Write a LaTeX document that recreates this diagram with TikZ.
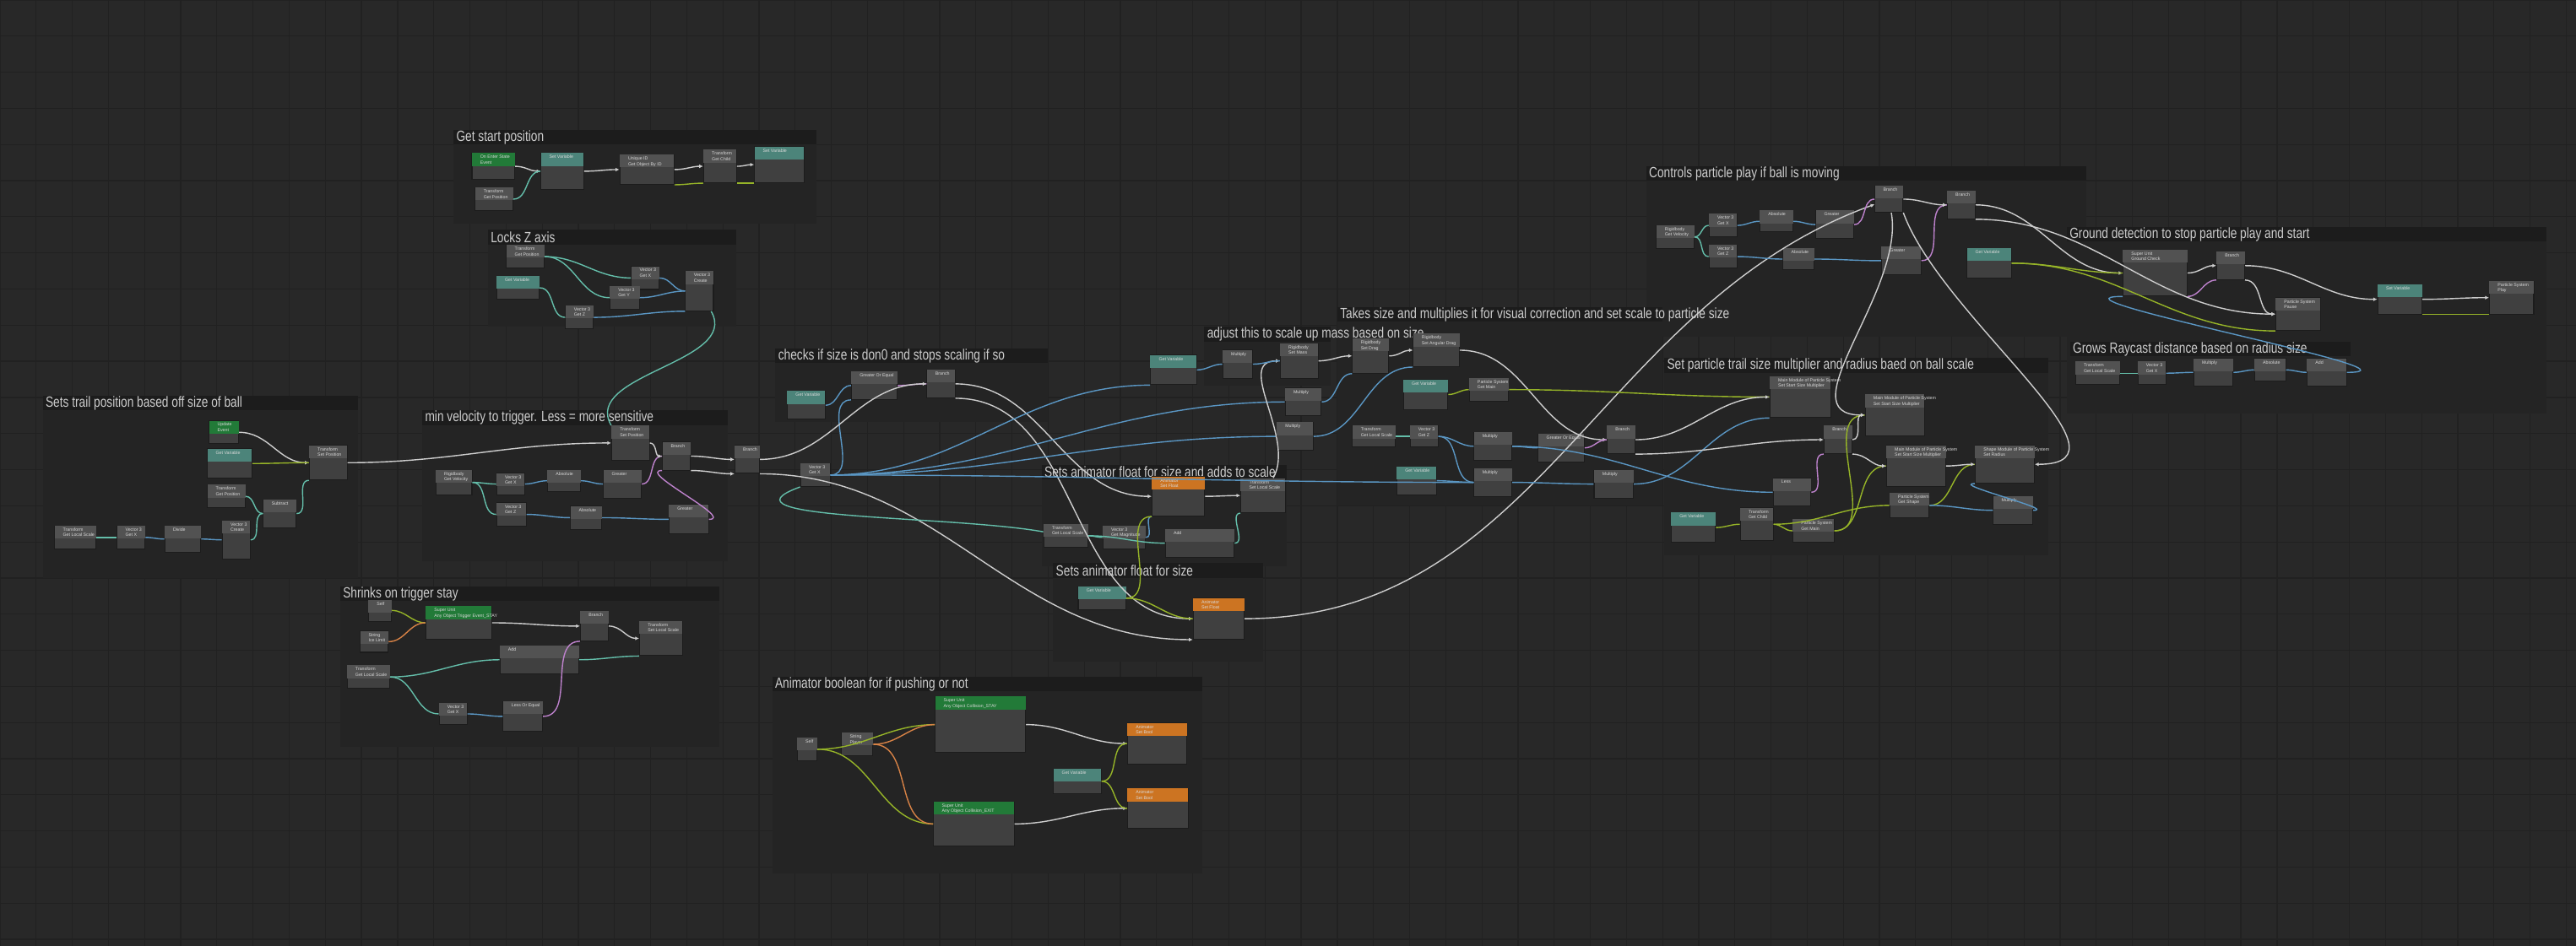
\documentclass[tikz,border=0pt]{standalone}
\usepackage{fontspec}
\setmainfont{Liberation Sans}
\usetikzlibrary{arrows.meta}
\usetikzlibrary{calc}
\definecolor{canvas}  {RGB}{40,40,40}
\definecolor{gridln}  {RGB}{33,33,33}
\definecolor{grpbg}   {RGB}{36,36,36}
\definecolor{grpbar}  {RGB}{28,28,28}
\definecolor{grptxt}  {RGB}{205,205,205}
\definecolor{ubody}   {RGB}{64,64,64}
\definecolor{uedge}   {RGB}{28,28,28}
\definecolor{hdgray}  {RGB}{82,82,82}
\definecolor{hdteal}  {RGB}{76,132,122}
\definecolor{hdgreen} {RGB}{34,122,56}
\definecolor{hdorange}{RGB}{204,116,34}
\definecolor{flowc}   {RGB}{205,205,205}
\definecolor{objc}    {RGB}{150,180,40}
\definecolor{vecc}    {RGB}{100,190,170}
\definecolor{fltc}    {RGB}{90,150,195}
\definecolor{boolc}   {RGB}{190,130,205}
\definecolor{strc}    {RGB}{215,130,70}
\newcommand\px{0.019458cm}
\tikzset{
  unitbox/.style={rectangle, fill=ubody, draw=uedge, line width=0.3pt, inner sep=0pt},
  unittext/.style={inner sep=0pt, text=white!85!black, align=left,
    font=\fontsize{1.5}{1.8}\selectfont},
  grouptitle/.style={inner sep=0pt, text=grptxt, anchor=west,
    font=\fontsize{5}{6}\selectfont, xscale=0.78, transform shape},
  wire/.style={line width=0.4pt, out=0, in=180},
  flow/.style={wire, flowc, -{Latex[length=1.3pt,width=1.3pt]}},
}
% node: name, x, y, width, height, header colour, two text lines
\newcommand\unit[8]{%
  \node (#1) [unitbox, minimum width=#4*\px, minimum height=#5*\px, anchor=north west] at (#2,#3) {};
  \fill [#6] ($(#1.north west)+(0.2,0.2)$) rectangle ($(#1.north east)+(-0.2,8)$);
  \node [unittext, anchor=north west] at ($(#1.north west)+(5,1.2)$) {#7\\#8};
}
% group frame: name, x1, y1, x2, y2, title
\newcommand\ugroup[6]{%
  \fill [grpbg] (#2,#3) rectangle (#4,#5);
  \fill [grpbar] (#2,#3) rectangle (#4,#3+9);
  \node (#1) [grouptitle] at (#2+1.5,#3+4.6) {#6};
}

\begin{document}
\begin{tikzpicture}[x=\px, y=-\px]
  \useasboundingbox (0,0) rectangle (1568,576);
  \fill [canvas] (0,0) rectangle (1568,576);
  \foreach \g in {0,22,...,1568} \draw [gridln, line width=0.35pt] (\g,0) -- (\g,576);
  \foreach \g in {0,22,...,576} \draw [gridln, line width=0.35pt] (0,\g) -- (1568,\g);

  % groups
  \ugroup{gStart}{276}{79}{497}{136}{Get start position}
  \ugroup{gLock}{297}{140}{448}{199}{Locks Z axis}
  \ugroup{gTrail}{26}{241}{218}{352}{Sets trail position based off size of ball}
  \ugroup{gVel}{257}{250}{443}{342}{min velocity to trigger. Less = more sensitive}
  \ugroup{gCheck}{472}{212}{638}{257}{checks if size is don0 and stops scaling if so}
  \ugroup{gShrink}{207}{357}{438}{455}{Shrinks on trigger stay}
  \ugroup{gBool}{470}{412}{732}{532}{Animator boolean for if pushing or not}
  \ugroup{gCtrl}{1002}{101}{1270}{205}{Controls particle play if ball is moving}
  \ugroup{gGround}{1258}{138}{1550}{252}{Ground detection to stop particle play and start}
  \ugroup{gRay}{1260}{208}{1431}{244}{Grows Raycast distance based on radius size}
  \ugroup{gPart}{1013}{218}{1247}{338}{Set particle trail size multiplier and radius baed on ball scale}
  \ugroup{gTakes}{814}{187}{1012}{308}{Takes size and multiplies it for visual correction and set scale to particle size}
  \ugroup{gMass}{733}{199}{810}{235}{adjust this to scale up mass based on size}
  \ugroup{gAddF}{634}{283}{783}{345}{Sets animator float for size and adds to scale}
  \ugroup{gSizeF}{641}{343}{769}{403}{Sets animator float for size}

  % get start position
  \unit{gsEvent}{287}{93}{26}{16}{hdgreen}{On Enter State}{Event}
  \unit{gsGetPos}{289}{114}{23}{14}{hdgray}{Transform}{Get Position}
  \unit{gsSetVar}{329}{93}{26}{22}{hdteal}{Set Variable}{}
  \unit{gsUid}{377}{94}{33}{18}{hdgray}{Unique ID}{Get Object By ID}
  \unit{gsChild}{428}{91}{20}{20}{hdgray}{Transform}{Get Child}
  \unit{gsSetVar2}{459}{89}{30}{22}{hdteal}{Set Variable}{}

  % locks z axis
  \unit{lzGetPos}{308}{149}{23}{14}{hdgray}{Transform}{Get Position}
  \unit{lzGetVar}{302}{168}{26}{14}{hdteal}{Get Variable}{}
  \unit{lzGetX}{384}{162}{17}{14}{hdgray}{Vector 3}{Get X}
  \unit{lzGetY}{371}{174}{18}{14}{hdgray}{Vector 3}{Get Y}
  \unit{lzGetZ}{344}{186}{17}{14}{hdgray}{Vector 3}{Get Z}
  \unit{lzCreate}{417}{165}{17}{24}{hdgray}{Vector 3}{Create}

  % sets trail position
  \unit{stUpdate}{127}{256}{18}{14}{hdgreen}{Update}{Event}
  \unit{stGetVar}{126}{273}{27}{18}{hdteal}{Get Variable}{}
  \unit{stGetPos}{126}{295}{23}{14}{hdgray}{Transform}{Get Position}
  \unit{stSetPos}{188}{271}{23}{21}{hdgray}{Transform}{Set Position}
  \unit{stSub}{160}{304}{20}{17}{hdgray}{Subtract}{}
  \unit{stScale}{33}{320}{25}{14}{hdgray}{Transform}{Get Local Scale}
  \unit{stGetX}{71}{320}{17}{14}{hdgray}{Vector 3}{Get X}
  \unit{stDiv}{100}{320}{22}{16}{hdgray}{Divide}{}
  \unit{stCreate}{135}{317}{17}{23}{hdgray}{Vector 3}{Create}

  % min velocity
  \unit{mvSetPos}{372}{259}{23}{21}{hdgray}{Transform}{Set Position}
  \unit{mvBranch}{403}{269}{17}{17}{hdgray}{Branch}{}
  \unit{mvVel}{265}{286}{22}{15}{hdgray}{Rigidbody}{Get Velocity}
  \unit{mvGetX}{302}{288}{17}{13}{hdgray}{Vector 3}{Get X}
  \unit{mvAbs}{333}{286}{20}{13}{hdgray}{Absolute}{}
  \unit{mvGt}{367}{286}{23}{17}{hdgray}{Greater}{}
  \unit{mvGetZ}{302}{306}{18}{14}{hdgray}{Vector 3}{Get Z}
  \unit{mvAbs2}{347}{308}{19}{14}{hdgray}{Absolute}{}
  \unit{mvGt2}{407}{307}{24}{18}{hdgray}{Greater}{}
  \unit{mvBranch2}{447}{271}{15}{17}{hdgray}{Branch}{}
  \unit{mvSizeX}{487}{282}{18}{14}{hdgray}{Vector 3}{Get X}

  % checks size
  \unit{ckGetVar}{479}{238}{23}{17}{hdteal}{Get Variable}{}
  \unit{ckGeq}{518}{226}{28}{17}{hdgray}{Greater Or Equal}{}
  \unit{ckBranch}{564}{225}{17}{17}{hdgray}{Branch}{}

  % shrinks on trigger stay
  \unit{shSelf}{224}{365}{14}{13}{hdgray}{Self}{}
  \unit{shTrig}{259}{369}{40}{20}{hdgreen}{Super Unit}{Any Object Trigger Event\_STAY}
  \unit{shStr}{219}{384}{17}{13}{hdgray}{String}{Ice Limit}
  \unit{shBranch}{353}{372}{17}{18}{hdgray}{Branch}{}
  \unit{shSetScale}{389}{378}{26}{21}{hdgray}{Transform}{Set Local Scale}
  \unit{shAdd}{304}{393}{48}{17}{hdgray}{Add}{}
  \unit{shGetScale}{211}{405}{26}{14}{hdgray}{Transform}{Get Local Scale}
  \unit{shGetX}{267}{428}{17}{13}{hdgray}{Vector 3}{Get X}
  \unit{shLeq}{306}{427}{24}{18}{hdgray}{Less Or Equal}{}

  % animator boolean
  \unit{abSelf}{485}{449}{12}{14}{hdgray}{Self}{}
  \unit{abStr}{512}{446}{19}{14}{hdgray}{String}{Player}
  \unit{abStay}{569}{424}{55}{34}{hdgreen}{Super Unit}{Any Object Collision\_STAY}
  \unit{abExit}{568}{488}{49}{27}{hdgreen}{Super Unit}{Any Object Collision\_EXIT}
  \unit{abGetVar}{641}{468}{29}{15}{hdteal}{Get Variable}{}
  \unit{abSetBool}{686}{440}{36}{25}{hdorange}{Animator}{Set Bool}
  \unit{abSetBool2}{686}{480}{37}{24}{hdorange}{Animator}{Set Bool}

  % animator float and add
  \unit{afSetFloat}{701}{290}{32}{24}{hdorange}{Animator}{Set Float}
  \unit{afSetScale}{755}{291}{27}{21}{hdgray}{Transform}{Set Local Scale}
  \unit{afGetScale}{635}{319}{27}{14}{hdgray}{Transform}{Get Local Scale}
  \unit{afMag}{671}{320}{26}{14}{hdgray}{Vector 3}{Get Magnitude}
  \unit{afAdd}{709}{322}{42}{17}{hdgray}{Add}{}

  % animator float for size
  \unit{sfGetVar}{656}{357}{29}{14}{hdteal}{Get Variable}{}
  \unit{sfSetFloat}{726}{364}{31}{25}{hdorange}{Animator}{Set Float}

  % mass
  \unit{amGetVar}{700}{216}{28}{18}{hdteal}{Get Variable}{}
  \unit{amMul}{744}{213}{18}{17}{hdgray}{Multiply}{}
  \unit{amMass}{779}{209}{23}{21}{hdgray}{Rigidbody}{Set Mass}
  \unit{amDrag}{823}{206}{22}{21}{hdgray}{Rigidbody}{Set Drag}
  \unit{amAng}{860}{203}{28}{20}{hdgray}{Rigidbody}{Set Angular Drag}

  % takes size
  \unit{tkMul}{782}{236}{22}{17}{hdgray}{Multiply}{}
  \unit{tkMul2}{777}{257}{22}{17}{hdgray}{Multiply}{}
  \unit{tkGetVar}{854}{231}{27}{18}{hdteal}{Get Variable}{}
  \unit{tkGetMain}{894}{230}{24}{14}{hdgray}{Particle System}{Get Main}
  \unit{tkScale}{823}{259}{26}{13}{hdgray}{Transform}{Get Local Scale}
  \unit{tkGetZ}{858}{259}{17}{13}{hdgray}{Vector 3}{Get Z}
  \unit{tkMul3}{897}{263}{23}{17}{hdgray}{Multiply}{}
  \unit{tkGeq}{936}{264}{28}{17}{hdgray}{Greater Or Equal}{}
  \unit{tkBranch}{978}{259}{17}{17}{hdgray}{Branch}{}
  \unit{tkGetVar2}{850}{284}{24}{17}{hdteal}{Get Variable}{}
  \unit{tkMul4}{897}{285}{23}{17}{hdgray}{Multiply}{}
  \unit{tkMul5}{970}{286}{24}{17}{hdgray}{Multiply}{}

  % controls particle play
  \unit{ctVel}{1008}{137}{23}{14}{hdgray}{Rigidbody}{Get Velocity}
  \unit{ctGetX}{1040}{130}{17}{14}{hdgray}{Vector 3}{Get X}
  \unit{ctGetZ}{1040}{149}{17}{14}{hdgray}{Vector 3}{Get Z}
  \unit{ctAbs}{1071}{128}{20}{13}{hdgray}{Absolute}{}
  \unit{ctGt}{1105}{128}{23}{17}{hdgray}{Greater}{}
  \unit{ctAbs2}{1085}{151}{19}{13}{hdgray}{Absolute}{}
  \unit{ctGt2}{1145}{150}{24}{17}{hdgray}{Greater}{}
  \unit{ctBranch}{1141}{113}{17}{16}{hdgray}{Branch}{}
  \unit{ctBranch2}{1185}{116}{17}{17}{hdgray}{Branch}{}
  \unit{ctGetVar}{1197}{151}{27}{18}{hdteal}{Get Variable}{}

  % ground detection
  \unit{gdCheck}{1292}{152}{39}{28}{hdgray}{Super Unit}{Ground Check}
  \unit{gdBranch}{1349}{153}{17}{17}{hdgray}{Branch}{}
  \unit{gdPause}{1385}{181}{27}{20}{hdgray}{Particle System}{Pause}
  \unit{gdSetVar}{1447}{173}{27}{18}{hdteal}{Set Variable}{}
  \unit{gdPlay}{1515}{171}{27}{20}{hdgray}{Particle System}{Play}

  % raycast distance
  \unit{rcScale}{1263}{220}{27}{14}{hdgray}{Transform}{Get Local Scale}
  \unit{rcGetX}{1301}{220}{17}{14}{hdgray}{Vector 3}{Get X}
  \unit{rcMul}{1335}{218}{24}{17}{hdgray}{Multiply}{}
  \unit{rcAbs}{1372}{218}{19}{14}{hdgray}{Absolute}{}
  \unit{rcAdd}{1404}{218}{24}{17}{hdgray}{Add}{}

  % particle trail
  \unit{ptMain}{1077}{229}{37}{25}{hdgray}{Main Module of Particle System}{Set Start Size Multiplier}
  \unit{ptMain2}{1135}{240}{36}{25}{hdgray}{Main Module of Particle System}{Set Start Size Multiplier}
  \unit{ptBranch}{1110}{259}{17}{17}{hdgray}{Branch}{}
  \unit{ptMain3}{1148}{271}{36}{25}{hdgray}{Main Module of Particle System}{Set Start Size Multiplier}
  \unit{ptShape}{1202}{271}{36}{23}{hdgray}{Shape Module of Particle System}{Set Radius}
  \unit{ptLess}{1079}{291}{23}{17}{hdgray}{Less}{}
  \unit{ptGetShape}{1150}{300}{24}{15}{hdgray}{Particle System}{Get Shape}
  \unit{ptMul}{1213}{302}{24}{17}{hdgray}{Multiply}{}
  \unit{ptGetVar}{1017}{312}{27}{18}{hdteal}{Get Variable}{}
  \unit{ptChild}{1059}{309}{20}{20}{hdgray}{Transform}{Get Child}
  \unit{ptGetMain}{1091}{316}{25}{14}{hdgray}{Particle System}{Get Main}

  % wires: get start position
  \draw [flow] (gsEvent) to (gsSetVar);
  \draw [wire, vecc] (gsGetPos) to (gsSetVar);
  \draw [flow] (gsSetVar) to (gsUid);
  \draw [flow] (gsUid) to (gsChild);
  \draw [wire, objc] (gsUid.south east) to (gsChild.south west);
  \draw [flow] (gsChild) to (gsSetVar2);
  \draw [wire, objc] (gsChild.south east) to (gsSetVar2.south west);

  % wires: locks z axis
  \draw [wire, vecc] (lzGetPos) to (lzGetX);
  \draw [wire, vecc] (lzGetPos) to (lzGetY);
  \draw [wire, vecc] (lzGetVar) to (lzGetZ);
  \draw [wire, fltc] (lzGetX) to (lzCreate);
  \draw [wire, fltc] (lzGetY) to (lzCreate);
  \draw [wire, fltc] (lzGetZ) to (lzCreate.south west);
  \draw [wire, vecc] (lzCreate) to[out=-60, in=120] (mvSetPos.north west);

  % wires: sets trail position
  \draw [flow] (stUpdate) to (stSetPos);
  \draw [wire, objc] (stGetVar) to (stSetPos);
  \draw [wire, vecc] (stGetPos) to (stSub);
  \draw [wire, vecc] (stScale) to (stGetX);
  \draw [wire, fltc] (stGetX) to (stDiv);
  \draw [wire, fltc] (stDiv) to (stCreate);
  \draw [wire, vecc] (stCreate) to (stSub);
  \draw [wire, vecc] (stSub) to (stSetPos.south west);
  \draw [flow] (stSetPos) to (mvSetPos);

  % wires: min velocity
  \draw [wire, vecc] (mvVel) to (mvGetX);
  \draw [wire, vecc] (mvVel) to (mvGetZ);
  \draw [wire, fltc] (mvGetX) to (mvAbs);
  \draw [wire, fltc] (mvAbs) to (mvGt);
  \draw [wire, fltc] (mvGetZ) to (mvAbs2);
  \draw [wire, fltc] (mvAbs2) to (mvGt2);
  \draw [wire, boolc] (mvGt) to (mvBranch);
  \draw [wire, boolc] (mvGt2) to (mvBranch.south west);
  \draw [flow] (mvSetPos) to (mvBranch);
  \draw [flow] (mvBranch) to (mvBranch2);
  \draw [flow] (mvBranch.south east) to (mvBranch2.south west);

  % wires: checks size
  \draw [wire, fltc] (ckGetVar) to (ckGeq);
  \draw [wire, fltc] (mvSizeX) to (ckGeq.south west);
  \draw [wire, boolc] (ckGeq) to (ckBranch);
  \draw [flow] (mvBranch2) to (ckBranch);
  \draw [flow] (ckBranch) to (afSetFloat);
  \draw [flow] (ckBranch.south east) to (sfSetFloat);
  \draw [flow] (mvBranch2.south east) to (sfSetFloat.south west);
  \draw [wire, fltc] (mvSizeX) to (amGetVar.south west);
  \draw [wire, fltc] (mvSizeX) to (tkMul);
  \draw [wire, fltc] (mvSizeX) to (tkMul2);
  \draw [wire, fltc] (mvSizeX) to (tkMul4);
  \draw [wire, vecc] (mvSizeX.south west) to[out=200, in=170] (afGetScale);

  % wires: shrinks on trigger stay
  \draw [wire, objc] (shSelf) to (shTrig);
  \draw [wire, strc] (shStr) to (shTrig);
  \draw [flow] (shTrig) to (shBranch);
  \draw [flow] (shBranch) to (shSetScale);
  \draw [wire, vecc] (shGetScale) to (shAdd);
  \draw [wire, vecc] (shAdd) to (shSetScale.south west);
  \draw [wire, vecc] (shGetScale) to (shGetX);
  \draw [wire, fltc] (shGetX) to (shLeq);
  \draw [wire, boolc] (shLeq) to (shBranch.south west);

  % wires: animator boolean
  \draw [wire, objc] (abSelf) to (abStay);
  \draw [wire, objc] (abSelf) to (abExit);
  \draw [wire, strc] (abStr) to (abStay);
  \draw [wire, strc] (abStr) to (abExit);
  \draw [flow] (abStay) to (abSetBool);
  \draw [flow] (abExit) to (abSetBool2);
  \draw [wire, objc] (abGetVar) to (abSetBool);
  \draw [wire, objc] (abGetVar) to (abSetBool2);

  % wires: animator floats
  \draw [flow] (afSetFloat) to (afSetScale);
  \draw [wire, vecc] (afGetScale) to (afMag);
  \draw [wire, vecc] (afGetScale) to (afAdd);
  \draw [wire, fltc] (afMag) to (afSetFloat.south west);
  \draw [wire, vecc] (afAdd) to (afSetScale.south west);
  \draw [wire, objc] (sfGetVar) to (sfSetFloat);
  \draw [wire, objc] (sfGetVar) to (afSetFloat.south west);
  \draw [flow] (sfSetFloat) to[out=0, in=200] (ctBranch);

  % wires: mass and particle size
  \draw [flow] (afSetScale) to[out=60, in=180] (amMass);
  \draw [wire, fltc] (amGetVar) to (amMul);
  \draw [wire, fltc] (amMul) to (amMass);
  \draw [flow] (amMass) to (amDrag);
  \draw [flow] (amDrag) to (amAng);
  \draw [wire, fltc] (tkMul) to (amDrag.south west);
  \draw [wire, fltc] (tkMul2) to (amAng.south west);
  \draw [flow] (amAng) to (tkBranch);
  \draw [wire, objc] (tkGetVar) to (tkGetMain);
  \draw [wire, objc] (tkGetMain) to (ptMain);
  \draw [wire, vecc] (tkScale) to (tkGetZ);
  \draw [wire, fltc] (tkGetZ) to (tkMul3);
  \draw [wire, fltc] (tkMul3) to (tkGeq);
  \draw [wire, fltc] (tkGetZ) to (tkMul4);
  \draw [wire, boolc] (tkGeq) to (tkBranch);
  \draw [wire, fltc] (tkGetVar2) to (tkMul4);
  \draw [wire, fltc] (tkMul4) to (tkMul5);
  \draw [wire, fltc] (tkMul5) to (ptMain.south west);
  \draw [wire, fltc] (tkMul3) to (ptLess);
  \draw [flow] (tkBranch) to (ptMain);
  \draw [flow] (tkBranch.south east) to (ptBranch);

  % wires: controls particle play
  \draw [wire, vecc] (ctVel) to (ctGetX);
  \draw [wire, vecc] (ctVel) to (ctGetZ);
  \draw [wire, fltc] (ctGetX) to (ctAbs);
  \draw [wire, fltc] (ctAbs) to (ctGt);
  \draw [wire, fltc] (ctGetZ) to (ctAbs2);
  \draw [wire, fltc] (ctAbs2) to (ctGt2);
  \draw [wire, boolc] (ctGt) to (ctBranch);
  \draw [wire, boolc] (ctGt2) to (ctBranch2);
  \draw [flow] (ctBranch) to (ctBranch2);
  \draw [flow] (ctBranch2) to (gdCheck);
  \draw [flow] (ctBranch2.south east) to (gdPause);
  \draw [flow] (ctBranch) to[out=-80, in=180] (ptMain2);
  \draw [flow] (ctBranch.south east) to[out=-70, in=0] (ptShape.east);
  \draw [wire, objc] (ctGetVar) to (gdCheck);
  \draw [wire, objc] (ctGetVar) to (gdPause.south west);

  % wires: ground detection
  \draw [flow] (gdCheck) to (gdBranch);
  \draw [wire, boolc] (gdCheck.south east) to (gdBranch.south west);
  \draw [flow] (gdBranch) to (gdSetVar);
  \draw [flow] (gdBranch.south east) to (gdPause);
  \draw [flow] (gdSetVar) to (gdPlay);
  \draw [wire, objc] (gdSetVar.south east) to (gdPlay.south west);

  % wires: raycast distance
  \draw [wire, vecc] (rcScale) to (rcGetX);
  \draw [wire, fltc] (rcGetX) to (rcMul);
  \draw [wire, fltc] (rcMul) to (rcAbs);
  \draw [wire, fltc] (rcAbs) to (rcAdd);
  \draw [wire, fltc] (rcAdd) to[out=0, in=180] (gdCheck.south west);

  % wires: particle trail
  \draw [wire, objc] (ptGetVar) to (ptChild);
  \draw [wire, objc] (ptChild) to (ptGetMain);
  \draw [wire, objc] (ptGetMain) to (ptMain2);
  \draw [wire, objc] (ptGetMain) to (ptMain3);
  \draw [wire, objc] (ptChild) to (ptGetShape);
  \draw [wire, objc] (ptGetShape) to (ptShape);
  \draw [wire, fltc] (ptGetShape) to (ptMul);
  \draw [wire, fltc] (ptMul) to (ptShape.south west);
  \draw [wire, boolc] (ptLess) to (ptBranch.south west);
  \draw [flow] (ptBranch) to (ptMain2);
  \draw [flow] (ptBranch.south east) to (ptMain3);
  \draw [flow] (ptMain3) to (ptShape);
\end{tikzpicture}
\end{document}
